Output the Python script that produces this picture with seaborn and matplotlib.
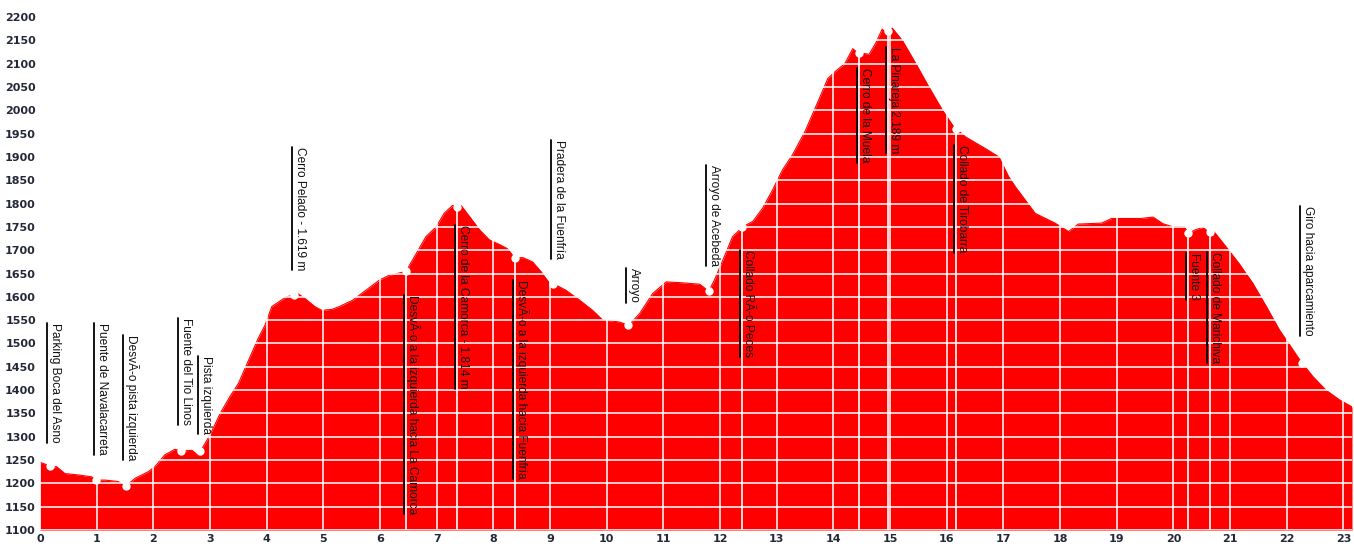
import numpy as np
import pandas as pd
import matplotlib
matplotlib.use("Agg")
import matplotlib.pyplot as plt
import matplotlib.transforms as mtransforms
import seaborn as sns

# perfil de la ruta (km, altitud en m)
km = [0.0, 0.12, 0.2, 0.29, 0.44, 0.68, 0.91, 1.0, 1.15, 1.38, 1.51, 1.68, 1.91, 2.03,
      2.2, 2.38, 2.5, 2.68, 2.78, 2.88, 3.0, 3.18, 3.35, 3.5, 3.68, 3.85, 3.97, 4.09,
      4.21, 4.35, 4.56, 4.68, 4.85, 4.97, 5.15, 5.28, 5.52, 5.75, 5.99, 6.16, 6.34,
      6.47, 6.52, 6.64, 6.81, 6.99, 7.13, 7.28, 7.35, 7.43, 7.58, 7.76, 7.93, 8.11,
      8.25, 8.37, 8.52, 8.69, 8.84, 8.99, 9.11, 9.28, 9.52, 9.75, 9.93, 10.1, 10.22,
      10.39, 10.58, 10.81, 11.05, 11.34, 11.64, 11.8, 11.9, 12.05, 12.22, 12.4, 12.58,
      12.75, 12.93, 13.1, 13.28, 13.5, 13.75, 13.9, 14.04, 14.2, 14.34, 14.42, 14.63,
      14.75, 14.86, 14.92, 15.04, 15.22, 15.45, 15.68, 15.92, 16.12, 16.33, 16.68,
      16.92, 17.09, 17.21, 17.56, 17.91, 18.15, 18.32, 18.73, 18.91, 19.2, 19.43,
      19.64, 19.81, 19.99, 20.19, 20.27, 20.37, 20.52, 20.62, 20.72, 20.93, 21.16,
      21.4, 21.64, 21.87, 22.11, 22.25, 22.46, 22.69, 22.93, 23.15]
altitud = [1245, 1240, 1234, 1236, 1221, 1218, 1214, 1207, 1207, 1204, 1194, 1211, 1225, 1236,
           1261, 1273, 1269, 1271, 1261, 1279, 1304, 1350, 1386, 1414, 1464, 1511, 1539, 1579,
           1589, 1600, 1606, 1596, 1579, 1571, 1573, 1579, 1593, 1614, 1636, 1646, 1651,
           1655, 1668, 1693, 1729, 1750, 1779, 1796, 1792, 1796, 1772, 1743, 1722, 1712,
           1703, 1684, 1684, 1675, 1654, 1629, 1625, 1614, 1593, 1571, 1550, 1548, 1546,
           1539, 1564, 1607, 1632, 1630, 1627, 1612, 1636, 1679, 1729, 1750, 1762,
           1790, 1830, 1872, 1905, 1955, 2025, 2068, 2084, 2100, 2132, 2124, 2120,
           2145, 2174, 2166, 2176, 2149, 2101, 2051, 2001, 1965, 1943, 1918,
           1900, 1858, 1836, 1779, 1758, 1740, 1756, 1758, 1768, 1768, 1768,
           1771, 1757, 1750, 1750, 1736, 1743, 1749, 1739, 1739, 1707, 1671,
           1629, 1579, 1529, 1486, 1461, 1429, 1400, 1379, 1364]

# puntos de paso
nombres = ["Parking Boca del Asno", "Puente de Navalacarreta", "DesvÃ-o pista izquierda",
           "Fuente del Tio Linos", "Pista izquierda", "Cerro Pelado - 1.619 m",
           "DesvÃ-o a la izquierda hacia La Camorca", "Cerro de la Camorca - 1.814 m",
           "DesvÃ-o a la izquierda hacia Fuenfría", "Pradera de la Fuenfría", "Arroyo",
           "Arroyo de Acebeda", "Collado RÃ-o Peces", "Cerro de la Muela",
           "La Pinareja 2.189 m", "Collado de Tirobarra", "Fuente 3",
           "Collado de Marichiva", "Giro hacia aparcamiento"]
km_paso = [0.17, 0.99, 1.51, 2.48, 2.83, 4.48, 6.46, 7.36, 8.38, 9.05, 10.38,
           11.8, 12.39, 14.45, 14.96, 16.16, 20.26, 20.64, 22.27]

y_ticks = list(range(1100, 2201, 50))
x_ticks = list(range(0, 24))

# altura a la que empieza cada etiqueta (colocacion)
alto_etiqueta = [1544, 1544, 1518, 1555, 1473, 1922, 1604, 1754, 1636, 1936, 1662,
                 1883, 1700, 2090, 2136, 1925, 1693, 1697, 1795]
# puntos de paso con linea blanca hasta la base
con_linea = ["DesvÃ-o a la izquierda hacia La Camorca", "Cerro de la Camorca - 1.814 m",
             "DesvÃ-o a la izquierda hacia Fuenfría", "Collado RÃ-o Peces",
             "Cerro de la Muela", "La Pinareja 2.189 m", "Collado de Tirobarra",
             "Fuente 3", "Collado de Marichiva"]

df = pd.DataFrame({"km": km, "altitud": altitud})

sns.set_style("white")
fig = plt.figure(figsize=(13.54, 5.48), dpi=100)
ax = fig.add_axes([40 / 1354, 18 / 548, 1312 / 1354, 513 / 548])

ax.fill_between(df["km"], 1100, df["altitud"], color="#ff0000", lw=0, zorder=1)
sns.lineplot(data=df, x="km", y="altitud", color="#ff0000", lw=0.8, ax=ax, zorder=1.1)

# marcas blancas en los puntos de paso
alt_paso = np.interp(km_paso, km, altitud)
ax.plot(km_paso, alt_paso, "o", color="white", markersize=6, mec="none", zorder=2)
for nombre, xk, ya in zip(nombres, km_paso, alt_paso):
    if nombre in con_linea:
        ax.plot([xk, xk], [1100, ya], color="white", lw=1.2, zorder=2)

ax.set_xlim(0, 23.15)
ax.set_ylim(1100, 2200)
ax.set_xticks(x_ticks)
ax.set_yticks(y_ticks)
ax.set_xlabel("")
ax.set_ylabel("")
ax.set_axisbelow(False)
ax.grid(True, color="white", lw=1.3, alpha=0.85)
for s in ax.spines.values():
    s.set_visible(False)
ax.tick_params(length=0, pad=3, labelsize=8, labelcolor="#222838")
for lab in ax.get_xticklabels() + ax.get_yticklabels():
    lab.set_fontweight("bold")

# etiquetas verticales con subrayado
offset = mtransforms.offset_copy(ax.transData, fig=fig, x=2, y=0, units="dots")
textos = []
for nombre, xk, yt in zip(nombres, km_paso, alto_etiqueta):
    t = ax.text(xk - 0.04, yt, nombre, rotation=-90, ha="left", va="top",
                fontsize=8.6, family=["Liberation Sans", "DejaVu Sans"],
                color="#111111", transform=offset, zorder=4)
    textos.append(t)

fig.canvas.draw()
inv = ax.transData.inverted()
for t, xk, yt in zip(textos, km_paso, alto_etiqueta):
    bb = t.get_window_extent()
    y_bot = inv.transform((bb.x0, bb.y0))[1]
    ax.plot([xk - 0.04, xk - 0.04], [yt, y_bot], color="black", lw=1.3, zorder=4)

fig.savefig("out.png", dpi=100)
